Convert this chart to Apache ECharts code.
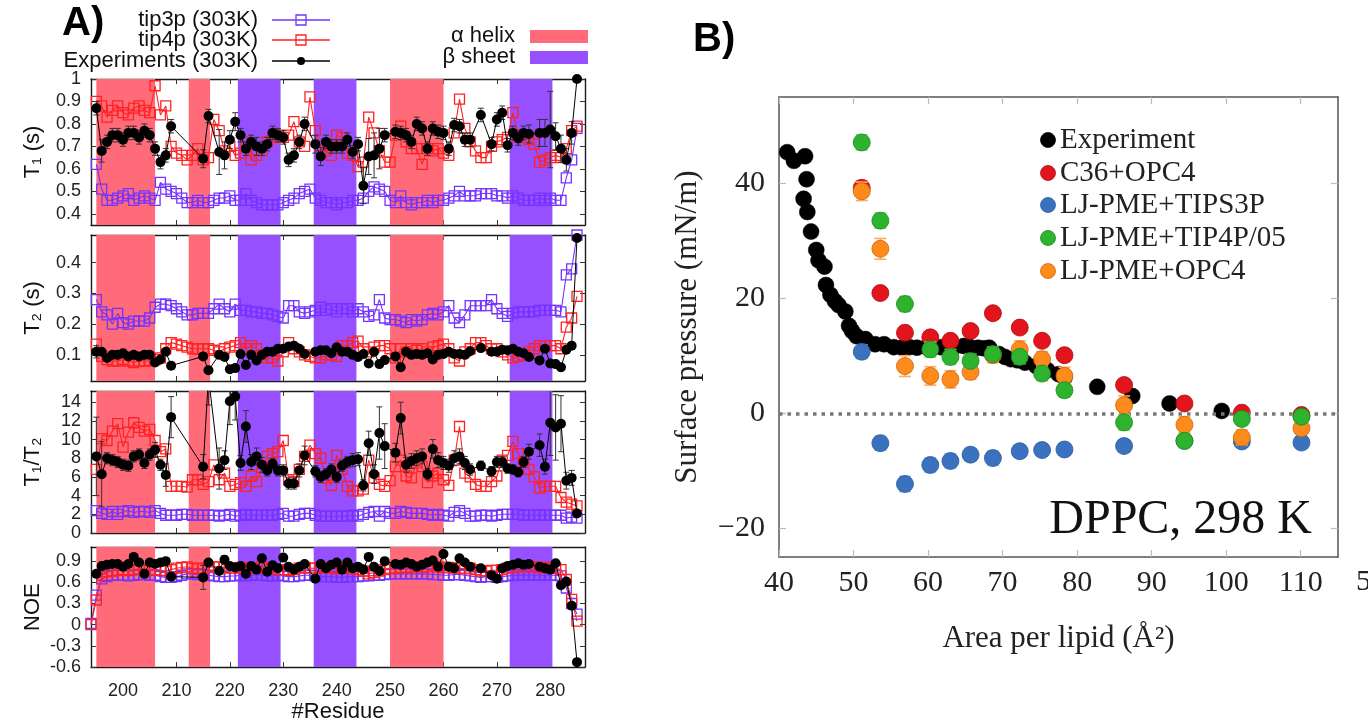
<!DOCTYPE html>
<html><head><meta charset="utf-8">
<script src="https://cdn.jsdelivr.net/npm/echarts@6/dist/echarts.min.js"></script>
<style>html,body{margin:0;padding:0;background:#fff}#c{width:1368px;height:724px}</style>
</head><body><div id="c"></div>
<script>
// ---------------- Panel A data ----------------
const simRes = [195,196,197,198,199,200,201,202,203,204,
205,206,207,208,209,210,211,212,213,214,
215,216,217,218,219,220,221,222,223,224,
225,226,227,228,229,230,231,232,233,234,
235,236,237,238,239,240,241,242,243,244,
245,246,247,248,249,250,251,252,253,254,
255,256,257,258,259,260,261,262,263,264,
265,266,267,268,269,270,271,272,273,274,
275,276,277,278,279,280,281,282,283,284,
285];
const noeRes = [194].concat(simRes);
const expRes = [195,196,197,198,199,200,201,202,203,204,205,206,207,208,209,
215,216,
218,219,220,221,222,223,224,225,226,227,228,229,230,231,232,233,234,
236,237,238,239,240,241,242,243,244,245,246,247,248,249,
251,252,253,254,255,256,257,258,259,260,261,262,263,264,265,
267,
269,270,271,272,273,274,275,276,
278,279,280,281,282,283,284,285];

const helixRanges = [[195,206],[212.3,216.3],[250,260]];
const sheetRanges = [[221.5,229.5],[235.7,243.7],[272.4,280.4]];
const residueTicks = [200,210,220,230,240,250,260,270,280];
const t1Ticks = [0.4,0.5,0.6,0.7,0.8,0.9,1];
const t2Ticks = [0.1,0.2,0.3,0.4];
const ratioTicks = [0,2,4,6,8,10,12,14];
const noeTicks = [-0.6,-0.3,0,0.3,0.6,0.9];

const tip3pT1 = [0.62,0.51,0.46,0.46,0.47,0.48,0.49,0.46,0.47,0.48,
0.47,0.46,0.54,0.51,0.50,0.49,0.47,0.45,0.45,0.46,
0.45,0.45,0.46,0.47,0.47,0.48,0.46,0.46,0.49,0.46,
0.45,0.44,0.44,0.44,0.44,0.45,0.46,0.47,0.49,0.50,
0.51,0.47,0.46,0.45,0.45,0.44,0.45,0.45,0.46,0.46,
0.47,0.50,0.52,0.51,0.50,0.46,0.45,0.48,0.45,0.44,
0.45,0.45,0.46,0.45,0.46,0.46,0.47,0.48,0.50,0.48,
0.48,0.48,0.49,0.49,0.49,0.48,0.48,0.47,0.48,0.47,
0.46,0.46,0.46,0.47,0.46,0.47,0.46,0.46,0.56,0.64,
0.78];
const tip4pT1 = [0.90,0.88,0.83,0.86,0.88,0.85,0.84,0.87,0.88,0.86,
0.85,0.97,0.84,0.88,0.70,0.67,0.66,0.64,0.66,0.69,
0.64,0.65,0.82,0.77,0.68,0.70,0.66,0.67,0.72,0.64,
0.66,0.68,0.72,0.74,0.75,0.74,0.75,0.81,0.72,0.70,
0.92,0.77,0.70,0.68,0.66,0.75,0.74,0.67,0.66,0.61,
0.63,0.83,0.76,0.68,0.63,0.63,0.75,0.79,0.72,0.69,
0.69,0.62,0.69,0.68,0.69,0.67,0.66,0.76,0.91,0.78,
0.72,0.68,0.65,0.65,0.70,0.72,0.73,0.74,0.85,0.75,
0.74,0.73,0.71,0.63,0.64,0.65,0.66,0.65,0.69,0.77,
0.79];
const expT1 = [0.87,0.68,0.72,0.75,0.75,0.73,0.76,0.76,0.74,0.77,0.75,0.69,0.63,0.66,0.79,
0.645,0.835,
0.675,0.66,0.73,0.81,0.75,0.69,0.72,0.70,0.69,0.71,0.76,0.75,0.74,0.64,0.66,0.72,0.80,
0.71,0.655,0.72,0.70,0.70,0.70,0.73,0.675,0.71,0.525,0.655,0.66,0.69,0.75,
0.765,0.76,0.75,0.72,0.80,0.78,0.69,0.78,0.765,0.76,0.69,0.795,0.79,0.73,0.73,
0.84,
0.71,0.82,0.85,0.705,0.76,0.735,0.76,0.755,
0.76,0.76,0.775,0.745,0.69,0.64,0.76,1.0];
const expT1Err = [0.03,0.05,0.03,0.03,0.03,0.03,0.03,0.03,0.03,0.03,0.03,0.03,0.03,0.03,0.03,
0.04,0.03,
0.10,0.06,0.04,0.04,0.03,0.03,0.03,0.04,0.03,0.03,0.03,0.03,0.03,0.03,0.03,0.03,0.03,
0.04,0.04,0.03,0.03,0.03,0.03,0.03,0.03,0.03,0.08,0.08,0.10,0.09,0.03,
0.03,0.03,0.03,0.03,0.03,0.03,0.03,0.03,0.03,0.03,0.03,0.03,0.03,0.03,0.03,
0.03,
0.03,0.03,0.03,0.03,0.03,0.03,0.03,0.04,
0.06,0.06,0.17,0.06,0.06,0.05,0.05,0.0];

const tip3pT2 = [0.28,0.24,0.23,0.20,0.235,0.205,0.20,0.21,0.21,0.21,
0.22,0.255,0.265,0.265,0.26,0.25,0.24,0.23,0.23,0.235,
0.235,0.235,0.25,0.265,0.25,0.24,0.265,0.245,0.245,0.24,
0.24,0.235,0.235,0.23,0.225,0.22,0.26,0.26,0.24,0.235,
0.24,0.245,0.255,0.245,0.25,0.24,0.25,0.25,0.24,0.25,
0.24,0.225,0.23,0.28,0.22,0.215,0.215,0.21,0.205,0.215,
0.21,0.215,0.23,0.235,0.23,0.24,0.26,0.22,0.205,0.23,
0.26,0.26,0.26,0.26,0.28,0.25,0.235,0.225,0.235,0.24,
0.24,0.24,0.24,0.245,0.245,0.245,0.245,0.24,0.36,0.38,
0.49];
const tip4pT2 = [0.135,0.095,0.085,0.08,0.08,0.085,0.08,0.075,0.08,0.08,
0.08,0.085,0.09,0.12,0.14,0.135,0.13,0.125,0.12,0.12,
0.12,0.12,0.115,0.11,0.12,0.125,0.13,0.14,0.12,0.13,
0.12,0.10,0.09,0.09,0.08,0.11,0.14,0.12,0.11,0.10,
0.095,0.09,0.09,0.10,0.10,0.095,0.13,0.13,0.14,0.145,
0.12,0.11,0.125,0.13,0.13,0.12,0.09,0.12,0.11,0.12,
0.115,0.12,0.11,0.125,0.13,0.135,0.12,0.09,0.08,0.11,
0.12,0.14,0.14,0.13,0.12,0.12,0.11,0.10,0.09,0.095,
0.10,0.11,0.12,0.13,0.13,0.13,0.13,0.12,0.19,0.22,
0.29];
const expT2 = [0.11,0.11,0.09,0.10,0.10,0.105,0.095,0.10,0.095,0.10,0.10,0.075,0.085,0.11,0.065,
0.095,0.05,
0.10,0.093,0.053,0.057,0.103,0.067,0.10,0.082,0.10,0.11,0.11,0.12,0.12,0.127,0.13,0.12,0.103,
0.11,0.115,0.115,0.105,0.125,0.11,0.11,0.10,0.093,0.103,0.072,0.11,0.07,0.083,
0.095,0.06,0.11,0.10,0.103,0.10,0.105,0.085,0.10,0.103,0.11,0.103,0.103,0.10,0.112,
0.122,
0.11,0.11,0.117,0.115,0.12,0.11,0.105,0.093,
0.082,0.12,0.072,0.07,0.06,0.117,0.13,0.48];
const expT2Err = [0.02,0.01,0.008,0.008,0.008,0.008,0.008,0.008,0.008,0.008,0.008,0.008,0.008,0.01,0.008,
0.01,0.008,
0.01,0.008,0.008,0.008,0.008,0.008,0.008,0.008,0.008,0.008,0.008,0.008,0.008,0.012,0.008,0.008,0.008,
0.008,0.008,0.008,0.008,0.008,0.008,0.008,0.008,0.008,0.008,0.008,0.008,0.008,0.008,
0.008,0.008,0.008,0.008,0.008,0.008,0.008,0.008,0.008,0.008,0.008,0.008,0.008,0.008,0.008,
0.008,
0.008,0.008,0.008,0.008,0.008,0.008,0.008,0.008,
0.008,0.008,0.008,0.008,0.012,0.01,0.01,0.01];

const tip3pRatio = [2.4,2.1,2.0,2.3,2.0,2.3,2.4,2.2,2.3,2.3,
2.2,2.4,2.1,1.9,1.9,1.9,2.0,2.0,1.9,1.9,
1.9,1.9,1.9,1.8,1.9,2.0,1.8,1.9,2.0,1.9,
1.9,1.9,1.9,1.9,2.0,2.1,1.8,1.8,2.0,2.1,
2.1,1.9,1.8,1.8,1.8,1.8,1.8,1.8,1.9,1.8,
2.0,2.2,2.3,1.8,2.3,2.1,2.1,2.3,2.2,2.1,
2.1,2.1,2.0,1.9,2.0,1.9,1.8,2.2,2.4,2.1,
1.8,1.8,1.9,1.9,1.8,1.9,2.0,2.0,2.0,2.0,
1.9,1.9,1.9,1.9,1.9,1.9,1.9,1.9,1.6,1.7,
1.6];
const tip4pRatio = [6.8,10.1,9.9,10.9,11.7,9.2,10.8,11.8,11.3,10.9,
11.1,9.9,8.7,9.0,5.0,5.0,5.0,4.9,5.7,5.7,
5.2,5.5,7.3,5.7,6.4,5.0,5.2,5.4,5.0,6.1,
5.5,7.0,8.2,8.5,8.7,9.9,5.7,5.5,6.8,8.2,
9.4,8.5,8.0,5.9,5.1,8.3,6.8,5.0,4.5,4.5,
4.7,7.8,5.9,5.2,5.0,5.6,7.1,7.8,6.1,5.9,
7.5,7.1,5.4,6.1,6.4,5.7,5.1,7.8,11.4,6.4,
6.0,5.2,5.0,5.0,5.5,6.1,7.8,8.3,9.8,8.5,
7.6,6.8,6.0,4.8,5.0,5.0,5.0,3.8,3.3,3.1,
2.9];
const expRatio = [8.2,6.3,8.0,7.8,7.6,7.3,7.2,8.2,8.4,7.5,8.4,8.9,7.3,6.2,12.4,
7.1,16.7,
6.9,7.8,14.1,14.6,7.5,11.4,7.6,8.2,7.3,6.7,7.4,6.7,6.7,5.3,5.3,6.7,8.3,
6.6,6.0,6.3,6.8,6.0,7.2,7.6,7.8,7.9,5.1,9.6,6.3,10.7,9.3,
8.6,12.3,7.3,7.7,8.0,8.2,6.3,9.0,7.8,7.5,7.2,8.0,8.2,7.5,6.8,
7.2,
6.6,7.6,7.6,6.9,6.8,6.5,7.6,8.7,
9.4,7.1,11.8,11.3,11.7,5.6,5.9,2.1];
const expRatioErr = [4.2,3.5,0.6,0.6,0.6,0.6,0.6,0.6,0.6,0.6,0.6,0.8,0.6,1.2,2.2,
1.3,3.0,
2.2,1.0,2.5,2.5,0.8,1.7,0.8,0.9,0.8,0.6,0.6,0.6,0.6,0.6,0.6,0.7,1.0,
0.6,0.6,0.6,0.6,0.6,0.6,0.6,0.7,0.7,0.6,1.3,1.0,2.8,2.4,
1.0,1.7,0.8,0.8,0.8,0.8,0.6,1.0,0.8,0.7,0.7,0.8,0.8,0.7,0.6,
0.5,
0.5,0.6,0.6,0.5,0.5,0.5,0.6,0.8,
1.2,0.8,3.5,3.5,3.0,0.9,0.8,0.2];

const tip3pNOE = [0.02,
0.42,0.65,0.68,0.70,0.70,0.70,0.69,0.70,0.71,0.71,
0.70,0.70,0.68,0.67,0.67,0.68,0.70,0.72,0.72,0.71,
0.71,0.70,0.69,0.68,0.68,0.69,0.69,0.70,0.69,0.70,
0.70,0.70,0.69,0.69,0.70,0.69,0.68,0.68,0.69,0.70,
0.70,0.69,0.68,0.68,0.68,0.67,0.67,0.68,0.68,0.68,
0.69,0.69,0.70,0.70,0.71,0.72,0.72,0.72,0.72,0.72,
0.72,0.72,0.72,0.71,0.71,0.70,0.70,0.71,0.71,0.70,
0.69,0.68,0.67,0.68,0.68,0.67,0.68,0.69,0.70,0.70,
0.70,0.70,0.70,0.70,0.70,0.70,0.70,0.69,0.52,0.30,
0.15];
const tip4pNOE = [0.0,
0.35,0.70,0.75,0.76,0.77,0.78,0.77,0.78,0.79,0.78,
0.78,0.78,0.77,0.76,0.78,0.80,0.81,0.82,0.80,0.79,
0.80,0.81,0.82,0.82,0.81,0.80,0.80,0.81,0.80,0.80,
0.80,0.82,0.80,0.79,0.78,0.78,0.77,0.78,0.80,0.81,
0.80,0.80,0.81,0.81,0.80,0.79,0.80,0.80,0.79,0.78,
0.76,0.72,0.74,0.76,0.78,0.80,0.80,0.81,0.81,0.82,
0.82,0.82,0.82,0.83,0.82,0.81,0.81,0.80,0.80,0.79,
0.80,0.78,0.76,0.76,0.77,0.77,0.78,0.80,0.81,0.82,
0.82,0.82,0.82,0.81,0.81,0.81,0.80,0.78,0.64,0.36,
0.05];
const expNOE = [0.72,0.83,0.85,0.86,0.86,0.82,0.86,0.96,0.88,0.72,0.88,0.86,0.88,0.90,0.68,
0.67,0.88,
0.76,0.92,0.83,0.81,0.83,0.72,0.83,0.78,0.94,0.75,0.84,0.80,0.95,0.82,0.78,0.82,0.86,
0.65,0.86,0.80,0.85,0.88,0.78,0.88,0.80,0.82,0.78,0.96,0.82,0.76,0.90,
0.86,0.85,0.88,0.86,0.82,0.85,0.88,0.91,0.82,1.0,0.82,0.80,0.94,0.88,0.82,
0.80,
0.70,0.65,0.80,0.83,0.85,0.87,0.85,0.86,
0.82,0.80,0.78,0.87,0.56,0.61,0.27,-0.53];
const expNOEErr = [0.02,0.02,0.02,0.02,0.02,0.02,0.02,0.02,0.02,0.02,0.02,0.02,0.02,0.02,0.02,
0.17,0.02,
0.02,0.06,0.02,0.02,0.02,0.02,0.02,0.02,0.02,0.02,0.02,0.02,0.02,0.02,0.02,0.02,0.02,
0.03,0.02,0.02,0.02,0.02,0.02,0.02,0.02,0.02,0.02,0.03,0.02,0.02,0.02,
0.02,0.02,0.02,0.02,0.02,0.02,0.02,0.02,0.02,0.03,0.02,0.02,0.02,0.02,0.02,
0.02,
0.02,0.02,0.02,0.02,0.02,0.02,0.02,0.02,
0.02,0.02,0.02,0.02,0.04,0.03,0.02,0.02];

// ---------------- Panel B data ----------------
const expArea = [41.1,42.0,43.5,43.7,43.3,43.8,44.3,45.0,45.3,46.1,46.3,46.9,47.5,48.0,48.9,49.4,49.8,50.4,51.6,52.9,54.1,55.4,56.5,57.5,58.5,59.8,60.5,61.7,62.5,63.5,64.8,65.5,66.7,67.5,68.2,69.5,70.3,71.1,72.0,73.0,74.5,76.0,77.5,78.3,82.7,87.4,92.4,99.4];
const expPressure = [45.4,43.9,44.7,40.7,37.3,35.0,31.6,28.4,26.6,25.5,22.3,20.6,19.5,18.8,17.7,15.2,14.3,13.4,12.9,12.0,12.0,11.5,11.4,11.5,11.4,11.5,11.5,11.5,11.6,11.5,11.7,11.6,11.4,11.3,11.4,10.3,9.8,9.4,9.2,8.8,8.2,7.5,6.8,6.2,4.6,3.0,1.7,0.4];
const simArea = [51.1,53.6,56.9,60.3,63.0,65.7,68.7,72.3,75.3,78.3,86.3,94.4,102.1,110.1];
const c36opc4 = [39.2,20.9,14.0,13.2,12.6,14.3,17.4,14.9,12.6,10.1,4.9,1.7,0.1,-0.3];
const c36opc4Err = [1.2,0.8,1.0,0.9,0.9,0.9,0.8,0.8,0.8,0.8,0.8,0.6,0.6,0.6];
const ljTips3p = [10.7,-5.2,-12.3,-9.0,-8.3,-7.2,-7.8,-6.6,-6.4,-6.3,-5.7,-4.8,-4.9,-5.1];
const ljTips3pErr = [1.2,1.2,1.3,1.2,1.2,1.1,1.2,1.0,1.0,1.0,1.0,0.9,0.9,1.0];
const ljTip4p05 = [47.1,33.5,19.0,11.1,9.8,9.1,10.3,9.8,6.9,4.0,-1.6,-4.8,-1.0,-0.6];
const ljTip4p05Err = [1.3,1.3,1.3,1.3,1.3,1.2,1.2,1.2,1.2,1.2,1.3,1.2,1.0,1.0];
const ljOpc4 = [38.6,28.6,8.2,6.5,5.9,7.2,10.1,11.1,9.4,6.5,1.4,-2.0,-4.2,-2.6];
const ljOpc4Err = [1.6,1.8,1.8,1.6,1.5,1.3,1.3,1.5,1.3,1.5,1.6,1.4,1.3,1.0];
const areaTicks = [40,50,60,70,80,90,100,110];
const pressureTicks = [-20,0,20,40];

// ---------------- styling ----------------
const fA = "'Liberation Sans','DejaVu Sans',Arial,sans-serif";
const fB = "'Liberation Serif','DejaVu Serif',serif";
const C3 = '#7433ff', C4 = '#ff2222', CH = '#ff6b78', CS = '#9650ff';

const pairs = (xs, ys) => xs.map((x, i) => [x, ys[i]]);
const errData = (xs, ys, es) => xs.map((x, i) => [x, ys[i] - es[i], ys[i] + es[i]]);

function errRender(cap, color, width) {
  return function (params, api) {
    const x = api.value(0);
    const lo = api.coord([x, api.value(1)]);
    const hi = api.coord([x, api.value(2)]);
    const st = { stroke: color, lineWidth: width };
    return { type: 'group', children: [
      { type: 'line', shape: { x1: lo[0], y1: lo[1], x2: hi[0], y2: hi[1] }, style: st },
      { type: 'line', shape: { x1: lo[0] - cap, y1: lo[1], x2: lo[0] + cap, y2: lo[1] }, style: st },
      { type: 'line', shape: { x1: hi[0] - cap, y1: hi[1], x2: hi[0] + cap, y2: hi[1] }, style: st }
    ]};
  };
}

const gridsA = [
  { left: 91, top: 79, width: 494, height: 146 },
  { left: 91, top: 235, width: 494, height: 146 },
  { left: 91, top: 391, width: 494, height: 142 },
  { left: 91, top: 547, width: 494, height: 121 }
];
const yCfg = [
  { min: 0.35, max: 1.0, ticks: t1Ticks, name: 'T\u2081 (s)' },
  { min: 0.015, max: 0.49, ticks: t2Ticks, name: 'T\u2082 (s)' },
  { min: 0, max: 15.2, ticks: ratioTicks, name: 'T\u2081/T\u2082' },
  { min: -0.6, max: 1.1, ticks: noeTicks, name: 'NOE' }
];

const xAxes = [], yAxes = [], series = [];
function axisLineA() { return { show: true, onZero: false, lineStyle: { color: '#1a1a1a', width: 1.4 } }; }

for (let g = 0; g < 4; g++) {
  const last = g === 3;
  xAxes.push({ type: 'value', gridIndex: g, position: 'bottom', min: 194, max: 286.5,
    name: last ? '#Residue' : '', nameLocation: 'middle', nameGap: 33,
    nameTextStyle: { fontFamily: fA, fontSize: 22, color: '#111' },
    axisLine: axisLineA(),
    axisTick: { show: true, inside: true, length: 5, customValues: residueTicks, lineStyle: { color: '#333' } },
    axisLabel: { show: last, customValues: residueTicks, margin: 15, fontFamily: fA, fontSize: 18, color: '#222' },
    splitLine: { show: false } });
  yAxes.push({ type: 'value', gridIndex: g, position: 'left', min: yCfg[g].min, max: yCfg[g].max,
    name: yCfg[g].name, nameLocation: 'middle', nameRotate: 90, nameGap: 47,
    nameTextStyle: { fontFamily: fA, fontSize: 22, color: '#111' },
    axisLine: axisLineA(),
    axisTick: { show: true, inside: true, length: 5, customValues: yCfg[g].ticks, lineStyle: { color: '#333' } },
    axisLabel: { show: true, customValues: yCfg[g].ticks, margin: 10, fontFamily: fA, fontSize: 18, color: '#222' },
    splitLine: { show: false } });
}
for (let g = 0; g < 4; g++) {
  xAxes.push({ type: 'value', gridIndex: g, position: 'top', min: 194, max: 286.5,
    axisLine: axisLineA(),
    axisTick: { show: true, inside: true, length: 5, customValues: residueTicks, lineStyle: { color: '#333' } },
    axisLabel: { show: false }, splitLine: { show: false } });
  yAxes.push({ type: 'value', gridIndex: g, position: 'right', min: yCfg[g].min, max: yCfg[g].max,
    axisLine: axisLineA(),
    axisTick: { show: true, inside: true, length: 5, customValues: yCfg[g].ticks, lineStyle: { color: '#333' } },
    axisLabel: { show: false }, splitLine: { show: false } });
}

const bands = helixRanges.map(r => [r[0], r[1], 0]).concat(sheetRanges.map(r => [r[0], r[1], 1]));
const simSets = [
  [simRes, tip3pT1, tip4pT1, expT1, expT1Err],
  [simRes, tip3pT2, tip4pT2, expT2, expT2Err],
  [simRes, tip3pRatio, tip4pRatio, expRatio, expRatioErr],
  [noeRes, tip3pNOE, tip4pNOE, expNOE, expNOEErr]
];
for (let g = 0; g < 4; g++) {
  const [res, a3, a4, ex, er] = simSets[g];
  series.push({ type: 'custom', xAxisIndex: g, yAxisIndex: g, silent: true, z: 1,
    data: bands, encode: { x: [0, 1] },
    renderItem: function (params, api) {
      const cs = params.coordSys;
      const s = api.coord([api.value(0), yCfg[g].min])[0];
      const e = api.coord([api.value(1), yCfg[g].min])[0];
      return { type: 'rect', shape: { x: s, y: cs.y, width: e - s, height: cs.height },
        style: { fill: api.value(2) === 0 ? CH : CS } };
    } });
  series.push({ type: 'line', xAxisIndex: g, yAxisIndex: g, silent: true, z: 3,
    data: pairs(res, a3), symbol: 'rect', symbolSize: 10,
    lineStyle: { color: C3, width: 1.1 },
    itemStyle: { color: 'rgba(255,255,255,0)', borderColor: C3, borderWidth: 1.3 } });
  series.push({ type: 'line', xAxisIndex: g, yAxisIndex: g, silent: true, z: 4,
    data: pairs(res, a4), symbol: 'rect', symbolSize: 10,
    lineStyle: { color: C4, width: 1.1 },
    itemStyle: { color: 'rgba(255,255,255,0)', borderColor: C4, borderWidth: 1.3 } });
  series.push({ type: 'custom', xAxisIndex: g, yAxisIndex: g, silent: true, z: 5, clip: true,
    data: errData(expRes, ex, er), encode: { x: 0, y: [1, 2] },
    renderItem: errRender(3, '#333', 1) });
  series.push({ type: 'line', xAxisIndex: g, yAxisIndex: g, silent: true, z: 6,
    data: pairs(expRes, ex), symbol: 'circle', symbolSize: 10,
    lineStyle: { color: '#000', width: 1 }, itemStyle: { color: '#000' } });
}

// ---------------- Panel B axes ----------------
const gB = 4;
const bTick = { show: true, inside: true, length: 7, lineStyle: { color: '#bbb', width: 1.2 } };
const bLine = { show: true, onZero: false, lineStyle: { color: '#555', width: 1.5 } };
const minusFmt = v => (v < 0 ? '\u2212' + Math.abs(v) : String(v));
xAxes.push({ type: 'value', gridIndex: gB, position: 'bottom', min: 40, max: 115,
  name: 'Area per lipid (\u00c5\u00b2)', nameLocation: 'middle', nameGap: 66,
  nameTextStyle: { fontFamily: fB, fontSize: 31, color: '#222' },
  axisLine: bLine, axisTick: Object.assign({ customValues: areaTicks }, bTick),
  axisLabel: { customValues: areaTicks, margin: 11, fontFamily: fB, fontSize: 30, color: '#222' },
  splitLine: { show: false } });
xAxes.push({ type: 'value', gridIndex: gB, position: 'top', min: 40, max: 115,
  axisLine: bLine, axisTick: Object.assign({ customValues: areaTicks }, bTick),
  axisLabel: { show: false }, splitLine: { show: false } });
yAxes.push({ type: 'value', gridIndex: gB, position: 'left', min: -25, max: 55,
  name: 'Surface pressure (mN/m)', nameLocation: 'middle', nameRotate: 90, nameGap: 76,
  nameTextStyle: { fontFamily: fB, fontSize: 31, color: '#222' },
  axisLine: bLine, axisTick: Object.assign({ customValues: pressureTicks }, bTick),
  axisLabel: { customValues: pressureTicks, margin: 14, fontFamily: fB, fontSize: 30, color: '#222', formatter: minusFmt },
  splitLine: { show: false } });
yAxes.push({ type: 'value', gridIndex: gB, position: 'right', min: -25, max: 55,
  axisLine: bLine, axisTick: Object.assign({ customValues: pressureTicks }, bTick),
  axisLabel: { show: false }, splitLine: { show: false } });

const xB = 8, yB = 8;
series.push({ type: 'scatter', xAxisIndex: xB, yAxisIndex: yB, silent: true, z: 2,
  data: pairs(expArea, expPressure), symbolSize: 16,
  itemStyle: { color: '#000', borderColor: '#000', borderWidth: 0.5, opacity: 1 },
  markLine: { silent: true, symbol: 'none', label: { show: false }, animation: false,
    lineStyle: { color: '#777', width: 3.5, type: [3.5, 5] }, data: [{ yAxis: 0 }] } });

const simSeriesB = [
  { v: ljTips3p, e: ljTips3pErr, c: '#3a72bf', b: '#2a5a9a', cap: '#8ab6ea', z: 3 },
  { v: c36opc4, e: c36opc4Err, c: '#e3141c', b: '#a50c10', cap: '#f06a6a', z: 4 },
  { v: ljOpc4, e: ljOpc4Err, c: '#ff8a1c', b: '#c8650a', cap: '#ffa95a', z: 5 },
  { v: ljTip4p05, e: ljTip4p05Err, c: '#2db32d', b: '#1d861d', cap: '#7fd67f', z: 6 }
];
simSeriesB.forEach(s => {
  series.push({ type: 'custom', xAxisIndex: xB, yAxisIndex: yB, silent: true, z: s.z, clip: true,
    data: errData(simArea, s.v, s.e), encode: { x: 0, y: [1, 2] },
    renderItem: errRender(6, s.cap, 1.6) });
  series.push({ type: 'scatter', xAxisIndex: xB, yAxisIndex: yB, silent: true, z: s.z,
    data: pairs(simArea, s.v), symbolSize: 17,
    itemStyle: { color: s.c, borderColor: s.b, borderWidth: 0.8, opacity: 1 } });
});

// ---------------- legends / labels ----------------
const graphic = [];
graphic.push({ type: 'text', x: 62, y: 24, style: { text: 'A)', font: 'bold 40px ' + fA, fill: '#000', verticalAlign: 'middle' } });
const legA = [
  { t: 'tip3p (303K)', y: 20, c: C3, sq: true },
  { t: 'tip4p (303K)', y: 40, c: C4, sq: true },
  { t: 'Experiments (303K)', y: 61, c: '#000', sq: false }
];
legA.forEach(l => {
  graphic.push({ type: 'text', x: 258, y: l.y, style: { text: l.t, font: '22px ' + fA, fill: '#111', align: 'right', verticalAlign: 'middle' } });
  graphic.push({ type: 'line', shape: { x1: 272, y1: l.y, x2: 330, y2: l.y }, style: { stroke: l.c, lineWidth: 1.3 } });
  if (l.sq) graphic.push({ type: 'rect', shape: { x: 296, y: l.y - 5, width: 10, height: 10 }, style: { fill: 'rgba(255,255,255,0)', stroke: l.c, lineWidth: 1.3 } });
  else graphic.push({ type: 'circle', shape: { cx: 301, cy: l.y, r: 4 }, style: { fill: '#000' } });
});
graphic.push({ type: 'text', x: 515, y: 36, style: { text: '\u03b1 helix', font: '22px ' + fA, fill: '#111', align: 'right', verticalAlign: 'middle' } });
graphic.push({ type: 'rect', shape: { x: 530, y: 30, width: 58, height: 13 }, style: { fill: CH } });
graphic.push({ type: 'text', x: 515, y: 57, style: { text: '\u03b2 sheet', font: '22px ' + fA, fill: '#111', align: 'right', verticalAlign: 'middle' } });
graphic.push({ type: 'rect', shape: { x: 530, y: 51, width: 58, height: 13 }, style: { fill: CS } });

graphic.push({ type: 'text', x: 693, y: 40, style: { text: 'B)', font: 'bold 40px ' + fA, fill: '#000', verticalAlign: 'middle' } });
const legB = [
  { t: 'Experiment', c: '#000', b: '#000', y: 140 },
  { t: 'C36+OPC4', c: '#e3141c', b: '#a50c10', y: 173 },
  { t: 'LJ-PME+TIPS3P', c: '#3a72bf', b: '#2a5a9a', y: 205 },
  { t: 'LJ-PME+TIP4P/05', c: '#2db32d', b: '#1d861d', y: 238 },
  { t: 'LJ-PME+OPC4', c: '#ff8a1c', b: '#c8650a', y: 271 }
];
legB.forEach(l => {
  graphic.push({ type: 'circle', shape: { cx: 1048, cy: l.y, r: 7.5 }, style: { fill: l.c, stroke: l.b, lineWidth: 0.8 } });
  graphic.push({ type: 'text', x: 1060, y: l.y, style: { text: l.t, font: '29px ' + fB, fill: '#222', verticalAlign: 'middle' } });
});
graphic.push({ type: 'text', x: 1312, y: 520, style: { text: 'DPPC, 298 K', font: '48px ' + fB, fill: '#111', align: 'right', verticalAlign: 'middle' } });
graphic.push({ type: 'text', x: 1356, y: 582, style: { text: '5', font: '30px ' + fB, fill: '#222', verticalAlign: 'middle' } });

const option = {
  animation: false,
  backgroundColor: '#fff',
  grid: gridsA.concat([{ left: 779, top: 97, width: 559, height: 460 }]),
  xAxis: xAxes,
  yAxis: yAxes,
  series: series,
  graphic: graphic
};
const chart = echarts.init(document.getElementById('c'), null, { renderer: 'canvas', width: 1368, height: 724 });
chart.setOption(option);
</script></body></html>
